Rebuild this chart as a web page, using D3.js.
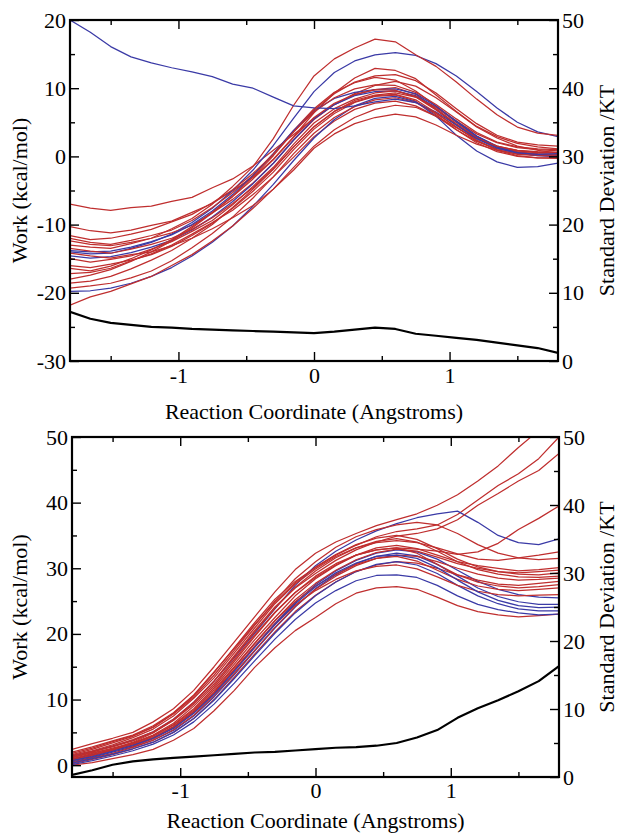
<!DOCTYPE html>
<html><head><meta charset="utf-8">
<script src="https://cdn.jsdelivr.net/npm/d3@7"></script>
<style>
body{margin:0;background:#fff}
svg{display:block}
</style>
</head><body>
<svg id="chart" width="618" height="834"></svg>
<script>
// Reaction coordinate sample positions (Angstroms)
const coord = [-1.8,-1.65,-1.5,-1.35,-1.2,-1.05,-0.9,-0.75,-0.6,-0.45,-0.3,-0.15,0,0.15,0.3,0.45,0.6,0.75,0.9,1.05,1.2,1.35,1.5,1.65,1.8];

// Top panel: work (kcal/mol), red runs
const topRed = [
 [-7.0,-7.6,-7.9,-7.5,-7.3,-6.6,-6.0,-4.6,-3.3,-1.4,0.9,3.2,5.6,7.6,9.2,10.4,11.0,10.3,8.6,6.5,4.3,2.7,1.5,0.9,0.5],
 [-10.3,-10.9,-11.2,-10.8,-10.1,-9.5,-8.2,-6.9,-5.0,-3.1,-0.4,2.9,6.4,9.3,11.5,12.9,12.6,11.4,9.0,6.6,4.4,2.9,1.9,1.4,1.1],
 [-13.0,-13.3,-13.5,-12.8,-12.0,-10.6,-9.1,-7.0,-4.4,-1.5,2.6,7.5,11.8,14.3,15.9,17.2,16.8,14.9,13.2,10.9,8.4,6.1,4.3,3.4,3.1],
 [-12.0,-12.6,-12.9,-12.3,-11.6,-10.8,-9.4,-7.5,-5.3,-2.8,0.4,3.8,7.0,9.4,10.8,11.6,11.2,9.6,7.4,5.0,2.9,1.4,0.7,0.3,0.2],
 [-12.4,-12.9,-13.1,-12.6,-12.0,-11.2,-10.1,-8.3,-6.3,-3.9,-1.0,2.4,5.4,7.6,9.0,9.8,10.1,9.1,7.0,4.8,2.8,1.3,0.5,0.2,0.0],
 [-15.0,-15.5,-15.1,-14.6,-13.6,-12.5,-11.0,-9.4,-7.1,-4.4,-1.6,1.8,4.9,7.0,8.4,9.3,9.6,8.8,6.9,4.6,2.7,1.5,0.9,0.6,0.5],
 [-16.0,-16.3,-15.8,-15.2,-14.4,-13.2,-11.6,-9.8,-7.6,-5.1,-2.3,1.0,4.0,6.3,7.9,8.8,9.0,8.1,6.1,3.9,2.0,0.7,0.0,-0.2,-0.3],
 [-17.2,-17.0,-16.4,-15.3,-14.3,-13.0,-11.4,-9.7,-7.9,-5.6,-3.0,-0.1,2.9,5.2,6.9,7.8,8.1,7.4,5.9,3.9,2.2,1.1,0.6,0.4,0.3],
 [-18.6,-18.3,-17.6,-16.5,-15.2,-13.8,-12.0,-10.0,-7.5,-4.8,-1.9,1.4,4.3,6.6,8.2,9.0,9.3,8.7,7.2,5.2,3.3,2.0,1.3,1.0,0.8],
 [-19.3,-19.0,-18.6,-17.8,-16.8,-15.3,-13.4,-11.3,-8.9,-6.1,-3.0,0.4,3.4,5.7,7.3,8.3,8.6,7.9,6.3,4.3,2.4,1.0,0.3,0.1,0.0],
 [-21.8,-20.6,-19.8,-18.7,-17.6,-16.0,-14.4,-12.4,-10.2,-7.6,-4.8,-1.6,1.5,3.9,5.7,6.9,7.5,7.2,5.9,4.2,2.6,1.4,0.8,0.5,0.5],
 [-14.2,-14.6,-14.9,-14.4,-14.0,-13.1,-12.0,-10.6,-9.0,-7.2,-4.8,-2.0,1.2,3.3,4.8,5.7,6.2,5.8,4.6,3.1,1.8,0.9,0.4,0.2,0.2],
 [-11.6,-12.2,-12.0,-11.4,-10.7,-9.6,-8.5,-6.8,-4.9,-2.5,0.3,3.6,6.5,8.6,9.9,10.5,10.4,9.4,7.6,5.5,3.5,2.1,1.4,1.1,1.0],
 [-16.4,-16.8,-16.1,-15.0,-13.7,-12.2,-10.3,-8.2,-5.9,-3.3,-0.5,2.8,5.7,7.8,9.1,9.8,9.7,8.7,6.8,4.6,2.7,1.5,0.9,0.7,0.6],
 [-13.5,-13.9,-14.2,-13.6,-12.9,-12.0,-10.7,-9.0,-6.9,-4.6,-1.8,1.4,4.4,6.6,8.0,8.9,9.1,8.3,6.4,4.3,2.3,0.9,0.1,-0.2,-0.2],
 [-18.0,-17.4,-16.6,-15.4,-14.0,-12.4,-10.5,-8.3,-5.8,-3.0,0.1,3.6,6.8,9.2,10.9,11.8,12.0,11.1,9.3,7.0,4.8,3.1,2.1,1.7,1.5]
];
// Top panel: blue runs
const topBlue = [
 [-14.0,-14.3,-14.2,-13.5,-12.6,-11.4,-9.7,-7.6,-5.0,-2.0,1.6,5.6,9.5,12.3,14.0,14.9,15.2,14.8,13.6,11.8,9.5,7.1,5.0,3.6,2.9],
 [-14.6,-14.9,-14.7,-14.1,-13.3,-12.3,-10.8,-8.9,-6.6,-4.0,-1.0,2.4,5.5,7.6,8.9,9.5,9.6,8.9,7.2,5.1,3.0,1.5,0.6,0.3,0.2],
 [-19.8,-19.7,-19.3,-18.6,-17.6,-16.3,-14.6,-12.6,-10.2,-7.3,-4.1,-0.6,2.7,5.4,7.4,8.5,8.8,8.0,5.9,3.1,0.8,-0.8,-1.6,-1.5,-1.0],
 [-13.8,-14.0,-13.9,-13.3,-12.5,-11.5,-10.0,-8.0,-5.6,-2.8,0.4,3.8,6.7,8.5,9.4,9.8,9.9,9.2,7.4,5.2,3.0,1.4,0.5,0.1,0.0],
 [20.0,18.2,16.1,14.6,13.7,13.0,12.4,11.7,10.6,10.0,8.7,7.4,7.1,7.0,7.4,8.0,8.4,7.9,6.5,4.6,2.6,1.2,0.5,0.3,0.4]
];
// Top panel: standard deviation (/KT, right axis)
const topStd = [7.2,6.2,5.6,5.3,5.0,4.9,4.7,4.6,4.5,4.4,4.3,4.2,4.1,4.3,4.6,4.9,4.7,4.0,3.7,3.4,3.1,2.7,2.3,1.9,1.2];

// Bottom panel: work (kcal/mol), red runs
const bottomRed = [
 [2.4,3.3,4.1,5.0,6.6,8.6,11.4,15.0,18.8,22.6,26.4,29.8,32.3,34.0,35.3,36.5,37.4,38.3,39.6,41.2,43.3,45.6,48.4,51.0,53.5],
 [1.8,2.6,3.6,4.5,5.8,7.9,10.6,14.1,17.9,21.7,25.3,28.0,30.1,32.0,33.5,34.8,35.6,36.0,36.6,38.2,40.4,42.6,44.4,46.7,50.0],
 [1.2,2.0,2.9,3.9,5.1,7.0,9.6,12.8,16.7,20.5,24.1,27.0,29.2,31.2,32.8,34.0,34.9,35.3,36.0,37.4,39.6,41.4,43.3,44.9,47.5],
 [0.9,1.8,2.6,3.4,4.6,6.4,9.0,12.1,15.8,19.6,23.2,26.3,28.6,30.5,32.0,32.8,33.1,32.9,32.6,32.1,32.5,33.8,35.9,37.6,39.5],
 [1.5,2.2,3.1,4.2,5.5,7.5,10.2,13.3,17.1,20.9,24.6,27.6,29.9,31.8,33.1,33.9,34.2,33.9,33.1,32.2,31.4,31.2,31.6,32.0,32.5],
 [0.6,1.4,2.3,3.3,4.5,6.2,8.6,11.8,15.4,19.1,22.5,25.8,28.4,30.4,32.0,33.1,33.5,33.0,32.0,31.0,30.4,30.0,29.6,29.8,30.1],
 [1.0,1.7,2.4,3.2,4.2,5.9,8.2,11.2,14.9,18.5,22.0,25.2,27.7,29.7,31.3,32.4,32.9,32.6,31.7,30.7,30.0,29.5,29.3,29.5,29.7],
 [2.0,2.8,3.7,4.6,6.0,8.0,10.7,14.2,17.8,21.4,24.8,27.8,30.2,32.1,33.6,34.6,35.0,34.4,33.0,31.4,30.2,29.5,29.1,29.0,29.3],
 [0.4,1.1,1.8,2.7,3.8,5.4,7.6,10.6,14.0,17.5,21.0,24.2,26.8,28.8,30.4,31.5,32.0,31.8,31.0,30.0,29.1,28.5,28.2,28.3,28.5],
 [1.3,2.1,2.8,3.7,5.0,6.8,9.3,12.4,16.1,19.8,23.3,26.3,28.8,30.7,32.0,32.8,33.1,32.3,30.6,29.0,27.9,27.3,27.0,27.2,27.5],
 [0.2,0.9,1.6,2.5,3.5,5.0,7.1,10.0,13.4,16.9,20.3,23.4,25.9,27.9,29.5,30.5,31.0,30.8,30.0,29.0,28.2,27.6,27.4,27.7,28.0],
 [0.8,1.5,2.2,2.9,4.0,5.7,8.0,11.0,14.6,18.1,21.5,24.4,26.6,28.3,29.6,30.3,30.5,29.9,28.7,27.4,26.5,26.0,25.8,25.9,26.0],
 [0.0,0.4,1.0,1.6,2.4,3.8,5.6,8.3,11.4,14.9,17.9,20.5,22.5,24.6,26.2,27.0,27.2,26.8,25.6,24.3,23.4,22.9,22.6,22.8,23.0],
 [1.6,2.4,3.4,4.4,5.8,7.8,10.4,13.7,17.5,21.3,25.0,28.4,31.0,33.2,34.8,35.9,36.6,37.0,36.6,35.3,33.6,32.3,31.6,31.3,31.5],
 [0.7,1.5,2.4,3.5,4.9,6.9,9.5,12.8,16.5,20.3,23.9,27.1,29.6,31.6,33.1,34.1,34.5,34.0,32.6,31.0,29.8,29.1,28.7,28.6,28.8],
 [1.1,1.9,2.5,3.3,4.4,6.1,8.4,11.5,15.0,18.6,22.0,24.9,27.3,29.1,30.6,31.5,31.8,31.1,29.7,28.3,27.3,26.8,26.6,26.8,27.0]
];
// Bottom panel: blue runs
const bottomBlue = [
 [1.4,2.1,2.9,3.8,5.1,7.0,9.6,12.8,16.4,20.1,23.8,27.4,30.4,32.6,34.3,35.7,36.8,37.7,38.3,38.7,37.0,35.0,33.9,33.6,34.5],
 [0.9,1.6,2.3,3.1,4.2,5.8,8.1,11.0,14.5,18.1,21.6,24.8,27.5,29.6,31.2,32.3,32.8,32.5,31.4,29.7,28.0,26.8,26.0,25.6,25.5],
 [0.5,1.2,2.0,2.8,3.8,5.3,7.5,10.4,13.8,17.4,20.9,24.1,26.9,29.0,30.7,31.8,32.3,31.9,30.6,28.8,27.0,25.7,24.9,24.5,24.5],
 [0.3,1.0,1.7,2.5,3.5,5.0,7.1,9.9,13.2,16.7,20.1,23.2,25.8,27.9,29.5,30.6,31.0,30.5,29.2,27.4,25.8,24.6,23.8,23.5,23.5],
 [0.1,0.7,1.4,2.2,3.2,4.6,6.6,9.3,12.5,15.9,19.2,22.2,24.7,26.6,28.1,28.9,29.0,28.6,27.4,25.8,24.5,23.7,23.2,22.9,23.0],
 [0.7,1.3,2.1,3.0,4.1,5.6,7.9,10.8,14.3,17.9,21.4,24.6,27.2,29.3,30.8,31.8,32.0,31.5,30.1,28.2,26.4,25.1,24.3,24.0,24.1]
];
// Bottom panel: standard deviation (/KT, right axis)
const bottomStd = [0.3,1.0,1.8,2.3,2.6,2.8,3.0,3.2,3.4,3.6,3.7,3.9,4.1,4.3,4.4,4.6,5.0,5.8,6.9,8.7,10.1,11.3,12.6,14.1,16.3];

// Axis ticks
const xMajor = [-1, 0, 1];
const xMinor = [-1.5, -0.5, 0.5, 1.5];
const topLeftMajor = [-30, -20, -10, 0, 10, 20];
const topLeftMinor = [-25, -15, -5, 5, 15];
const bottomLeftMajor = [0, 10, 20, 30, 40, 50];
const bottomLeftMinor = [5, 15, 25, 35, 45];
const rightMajor = [0, 10, 20, 30, 40, 50];
const rightMinor = [5, 15, 25, 35, 45];

const xTitle = "Reaction Coordinate (Angstroms)";
const yTitle = "Work (kcal/mol)";
const y2Title = "Standard Deviation /KT";

const FONT = '"Liberation Serif"';
const RED = "#bf2e2e", BLUE = "#3a3aa6";
const svg = d3.select("#chart");

function panel(id, box, leftDomain, leftMajor, leftMinor, reds, blues, std, xLabelGap, titleBaseline) {
  const g = svg.append("g");
  const x = d3.scaleLinear().domain([-1.8, 1.8]).range([box.l, box.r]);
  const y = d3.scaleLinear().domain(leftDomain).range([box.b, box.t]);
  const y2 = d3.scaleLinear().domain([0, 50]).range([box.b, box.t]);

  g.append("clipPath").attr("id", id).append("rect")
    .attr("x", box.l).attr("y", box.t).attr("width", box.r - box.l).attr("height", box.b - box.t);
  const plot = g.append("g").attr("clip-path", `url(#${id})`);

  const line = d3.line().x((d, i) => x(coord[i])).y(d => y(d));
  const line2 = d3.line().x((d, i) => x(coord[i])).y(d => y2(d));

  const series = [];
  reds.forEach((r, i) => { series.push({v: r, c: RED}); if (i % 3 === 1 && blues[Math.floor(i/3)]) series.push({v: blues[Math.floor(i/3)], c: BLUE}); });
  blues.forEach(b => { if (!series.some(s => s.v === b)) series.push({v: b, c: BLUE}); });
  plot.selectAll("path.run").data(series).join("path").attr("class", "run")
    .attr("d", d => line(d.v)).attr("fill", "none").attr("stroke", d => d.c)
    .attr("stroke-width", 1.25).attr("stroke-linejoin", "round");
  plot.append("path").attr("d", line2(std)).attr("fill", "none")
    .attr("stroke", "#000").attr("stroke-width", 2.2).attr("stroke-linejoin", "round");

  const fmt = d => String(d);
  const styleAxis = sel => {
    sel.attr("font-family", null).attr("font-size", null);
    sel.select(".domain").remove();
    sel.selectAll(".tick line").attr("stroke", "#000").attr("stroke-width", 1.4);
    sel.selectAll("text").style("font-size", "22px").style("font-family", FONT).attr("fill", "#000");
  };

  g.append("g").attr("transform", `translate(0,${box.b})`)
    .call(d3.axisBottom(x).tickValues(xMajor).tickSize(-9).tickPadding(xLabelGap).tickFormat(fmt)).call(styleAxis);
  g.append("g").attr("transform", `translate(0,${box.b})`)
    .call(d3.axisBottom(x).tickValues(xMinor).tickSize(-5).tickFormat("")).call(styleAxis);
  g.append("g").attr("transform", `translate(0,${box.t})`)
    .call(d3.axisTop(x).tickValues(xMajor).tickSize(-9).tickFormat("")).call(styleAxis);
  g.append("g").attr("transform", `translate(0,${box.t})`)
    .call(d3.axisTop(x).tickValues(xMinor).tickSize(-5).tickFormat("")).call(styleAxis);

  g.append("g").attr("transform", `translate(${box.l},0)`)
    .call(d3.axisLeft(y).tickValues(leftMajor).tickSize(-9).tickPadding(4).tickFormat(fmt)).call(styleAxis);
  g.append("g").attr("transform", `translate(${box.l},0)`)
    .call(d3.axisLeft(y).tickValues(leftMinor).tickSize(-5).tickFormat("")).call(styleAxis);
  g.append("g").attr("transform", `translate(${box.r},0)`)
    .call(d3.axisRight(y2).tickValues(rightMajor).tickSize(-9).tickPadding(4).tickFormat(fmt)).call(styleAxis);
  g.append("g").attr("transform", `translate(${box.r},0)`)
    .call(d3.axisRight(y2).tickValues(rightMinor).tickSize(-5).tickFormat("")).call(styleAxis);

  g.append("rect").attr("x", box.l).attr("y", box.t).attr("width", box.r - box.l).attr("height", box.b - box.t)
    .attr("fill", "none").attr("stroke", "#000").attr("stroke-width", 2.2);

  const title = (sel) => sel.style("font-family", FONT).style("font-size", "22px").attr("text-anchor", "middle").attr("fill", "#000");
  g.append("text").attr("x", (box.l + box.r) / 2).attr("y", titleBaseline).call(title).text(xTitle);
  const cy = (box.t + box.b) / 2;
  g.append("text").attr("transform", `translate(27,${cy}) rotate(-90)`).call(title).text(yTitle);
  g.append("text").attr("transform", `translate(614,${cy}) rotate(-90)`).call(title).text(y2Title);
}

panel("clipTop", {l: 70, r: 558, t: 20, b: 361}, [-30, 20], topLeftMajor, topLeftMinor, topRed, topBlue, topStd, 6, 419);
panel("clipBottom", {l: 72, r: 559, t: 437, b: 777}, [-1.8, 50], bottomLeftMajor, bottomLeftMinor, bottomRed, bottomBlue, bottomStd, 5, 828);
</script>
</body></html>
